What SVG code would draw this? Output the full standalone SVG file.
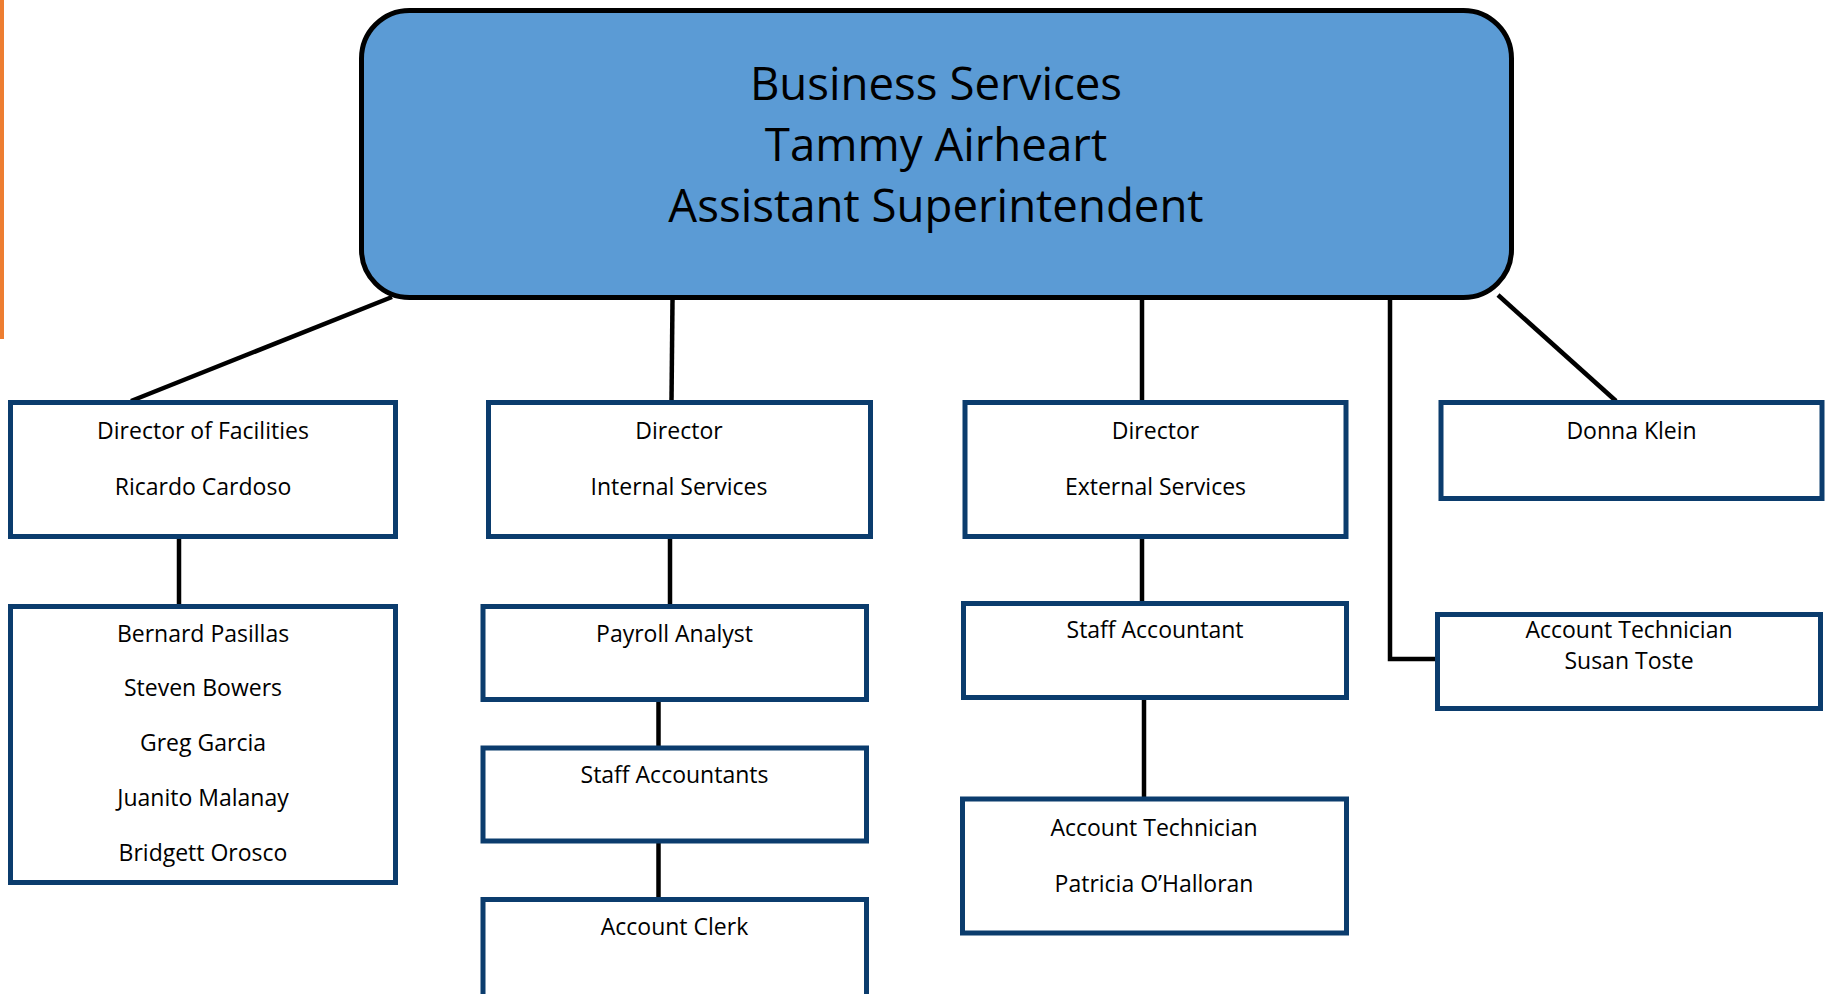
<svg xmlns="http://www.w3.org/2000/svg" width="1834" height="994" viewBox="0 0 1834 994">
<style>
.box{fill:#ffffff;stroke:#0b3c6d;stroke-width:5}
.main{fill:#5b9bd5;stroke:#000000;stroke-width:5}
.t{font-family:"Open Sans",Carlito,Calibri,sans-serif;font-size:23px;fill:#000000;text-anchor:middle}
.tt{font-family:"Open Sans",Carlito,Calibri,sans-serif;font-size:45.6px;fill:#000000;text-anchor:middle}
.c{stroke:#000000;stroke-width:4.5;fill:none}
</style>
<rect width="1834" height="994" fill="#ffffff"/>
<rect x="0" y="0" width="4" height="339" fill="#ed7d31"/>
<g id="connectors">
<line class="c" x1="392" y1="297" x2="131" y2="401"/>
<line class="c" x1="672.5" y1="300" x2="671.5" y2="401"/>
<line class="c" x1="1142" y1="300" x2="1142" y2="401"/>
<polyline class="c" points="1390,300 1390,659 1437,659"/>
<line class="c" x1="1498" y1="295" x2="1616" y2="401"/>
<line class="c" x1="179" y1="538" x2="179" y2="606"/>
<line class="c" x1="670" y1="538" x2="670" y2="606"/>
<line class="c" x1="658.5" y1="701" x2="658.5" y2="747"/>
<line class="c" x1="658.5" y1="842" x2="658.5" y2="898"/>
<line class="c" x1="1142" y1="538" x2="1142" y2="602"/>
<line class="c" x1="1144" y1="699" x2="1144" y2="798"/>
</g>
<g id="business-services">
<rect class="main" x="361.5" y="10.5" width="1150" height="287" rx="48" ry="48"/>
<text class="tt" x="936" y="99.5">Business Services</text>
<text class="tt" x="936" y="160.5">Tammy Airheart</text>
<text class="tt" x="936" y="221.5">Assistant Superintendent</text>
</g>
<g id="director-facilities">
<rect class="box" x="10.5" y="402.5" width="385" height="134"/>
<text class="t" x="203" y="439">Director of Facilities</text>
<text class="t" x="203" y="495">Ricardo Cardoso</text>
</g>
<g id="director-internal">
<rect class="box" x="488.5" y="402.5" width="382" height="134"/>
<text class="t" x="679" y="439">Director</text>
<text class="t" x="679" y="495">Internal Services</text>
</g>
<g id="director-external">
<rect class="box" x="965" y="402.5" width="381" height="134"/>
<text class="t" x="1155.5" y="439">Director</text>
<text class="t" x="1155.5" y="495">External Services</text>
</g>
<g id="donna-klein">
<rect class="box" x="1441" y="402.5" width="381" height="96"/>
<text class="t" x="1631.5" y="439">Donna Klein</text>
</g>
<g id="facilities-staff">
<rect class="box" x="10.5" y="606.5" width="385" height="276"/>
<text class="t" x="203" y="641.5">Bernard Pasillas</text>
<text class="t" x="203" y="696">Steven Bowers</text>
<text class="t" x="203" y="750.5">Greg Garcia</text>
<text class="t" x="203" y="805.5">Juanito Malanay</text>
<text class="t" x="203" y="860.5">Bridgett Orosco</text>
</g>
<g id="payroll-analyst">
<rect class="box" x="483" y="606.5" width="383.5" height="93"/>
<text class="t" x="674.5" y="641.5">Payroll Analyst</text>
</g>
<g id="staff-accountants">
<rect class="box" x="483" y="748" width="383.5" height="93"/>
<text class="t" x="674.5" y="783">Staff Accountants</text>
</g>
<g id="account-clerk">
<rect class="box" x="483" y="899.5" width="383.5" height="120"/>
<text class="t" x="674.5" y="935">Account Clerk</text>
</g>
<g id="staff-accountant">
<rect class="box" x="963.5" y="603.5" width="383" height="94"/>
<text class="t" x="1155" y="638">Staff Accountant</text>
</g>
<g id="account-technician-patricia">
<rect class="box" x="962.5" y="799" width="384" height="134"/>
<text class="t" x="1154" y="836">Account Technician</text>
<text class="t" x="1154" y="891.5">Patricia O’Halloran</text>
</g>
<g id="account-technician-susan">
<rect class="box" x="1437.5" y="614.5" width="383" height="94"/>
<text class="t" x="1629" y="637.5">Account Technician</text>
<text class="t" x="1629" y="669">Susan Toste</text>
</g>
</svg>
